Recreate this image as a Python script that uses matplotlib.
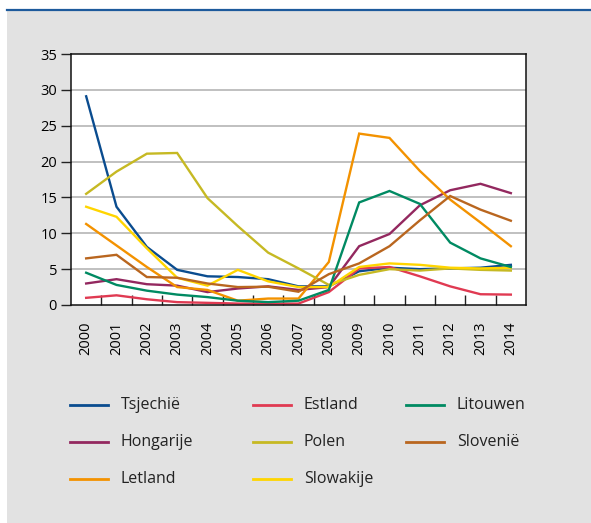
import numpy as np
import matplotlib
matplotlib.use("Agg")
import matplotlib.pyplot as plt
from matplotlib.lines import Line2D
from matplotlib.patches import Rectangle

# jaarlijkse waarden per land, 2000-2014
jaren = [str(j) for j in range(2000, 2015)]

tsjechie = [29.1, 13.7, 8.1, 4.9, 4.0, 3.9, 3.6, 2.6, 2.6, 4.7, 5.2, 5.0, 5.1, 5.2, 5.6]
hongarije = [3.0, 3.6, 2.9, 2.7, 1.8, 2.3, 2.6, 2.1, 2.5, 8.2, 9.9, 13.9, 16.0, 16.9, 15.6]
letland = [11.3, 8.3, 5.3, 2.5, 2.1, 0.6, 0.9, 0.9, 6.0, 23.9, 23.3, 18.7, 14.7, 11.5, 8.2]
estland = [1.0, 1.35, 0.8, 0.4, 0.3, 0.2, 0.2, 0.2, 1.8, 5.1, 5.3, 4.0, 2.6, 1.5, 1.45]
polen = [15.5, 18.6, 21.1, 21.2, 14.9, 11.0, 7.3, 5.1, 2.8, 4.2, 5.0, 4.8, 5.1, 4.9, 4.8]
slowakije = [13.7, 12.3, 7.9, 3.8, 2.7, 4.9, 3.3, 2.5, 2.5, 5.3, 5.8, 5.6, 5.2, 5.1, 5.2]
litouwen = [4.5, 2.8, 2.0, 1.45, 1.1, 0.6, 0.4, 0.6, 2.1, 14.3, 15.9, 14.1, 8.7, 6.5, 5.3]
slovenie = [6.5, 7.0, 3.9, 3.8, 3.0, 2.5, 2.55, 1.85, 4.3, 5.8, 8.2, 11.8, 15.2, 13.3, 11.75]

namen = ["Tsjechië", "Hongarije", "Letland", "Estland", "Polen",
         "Slowakije", "Litouwen", "Slovenië"]
reeksen = [tsjechie, hongarije, letland, estland, polen, slowakije, litouwen, slovenie]
kleuren = ["#0a4c8f", "#93285f", "#f39200", "#e03a52", "#c6b923",
           "#ffd500", "#008a62", "#b9661f"]

GRIJS = "#e2e2e2"
plt.rcParams.update({"font.family": ["Open Sans", "DejaVu Sans"], "text.color": "#222222"})

W, H = 591, 523
fig = plt.figure(figsize=(W / 100, H / 100), dpi=100, facecolor="white")
fig.add_artist(Rectangle((7 / W, 0), 1 - 7 / W, 1 - 11 / H, transform=fig.transFigure,
                         facecolor=GRIJS, edgecolor="none", zorder=0))
fig.add_artist(Line2D([7 / W, 1], [1 - 10.3 / H] * 2, transform=fig.transFigure,
                      color="#1d5a9c", lw=1.6))

ax = fig.add_axes([71 / W, 1 - 305 / H, 455 / W, 251 / H])
ax.set_facecolor("white")
x = np.arange(len(jaren))
for naam, waarden, kleur in zip(namen, reeksen, kleuren):
    ax.plot(x, waarden, color=kleur, lw=1.7, solid_joinstyle="miter", label=naam)

ax.set_xlim(-0.5, len(jaren) - 0.5)
ax.set_ylim(0, 35)
ax.set_yticks(range(0, 36, 5))
for y in range(5, 35, 5):
    ax.axhline(y, color="#b5b5b5", lw=1.2, zorder=0)

# categorie-as: streepjes tussen de jaren, labels op de jaren
ax.set_xticks(x[:-1] + 0.5)
ax.set_xticklabels([])
ax.set_xticks(x, minor=True)
ax.set_xticklabels(jaren, minor=True, rotation=90, fontsize=10.5)
ax.tick_params(axis="x", which="major", direction="in", length=7.5, width=1, color="#222222")
ax.tick_params(axis="x", which="minor", length=0, pad=12)
ax.tick_params(axis="y", direction="out", length=7.5, width=1, color="#222222",
               labelsize=10.5, pad=2.5)
for s in ax.spines.values():
    s.set_color("#111111")
    s.set_linewidth(1.1)

# legenda met vaste kolommen
kol_x = [70, 253, 406]
rij_y = [405, 442, 479]
for i, (naam, kleur) in enumerate(zip(namen, kleuren)):
    k, r = divmod(i, 3)
    x0 = kol_x[k]
    y0 = 1 - rij_y[r] / H
    fig.add_artist(Line2D([x0 / W, (x0 + 38) / W], [y0, y0], transform=fig.transFigure,
                          color=kleur, lw=2.0))
    fig.text((x0 + 51) / W, y0, naam, fontsize=11.5, va="center", ha="left")

fig.savefig("out.png", dpi=100, facecolor=fig.get_facecolor())
